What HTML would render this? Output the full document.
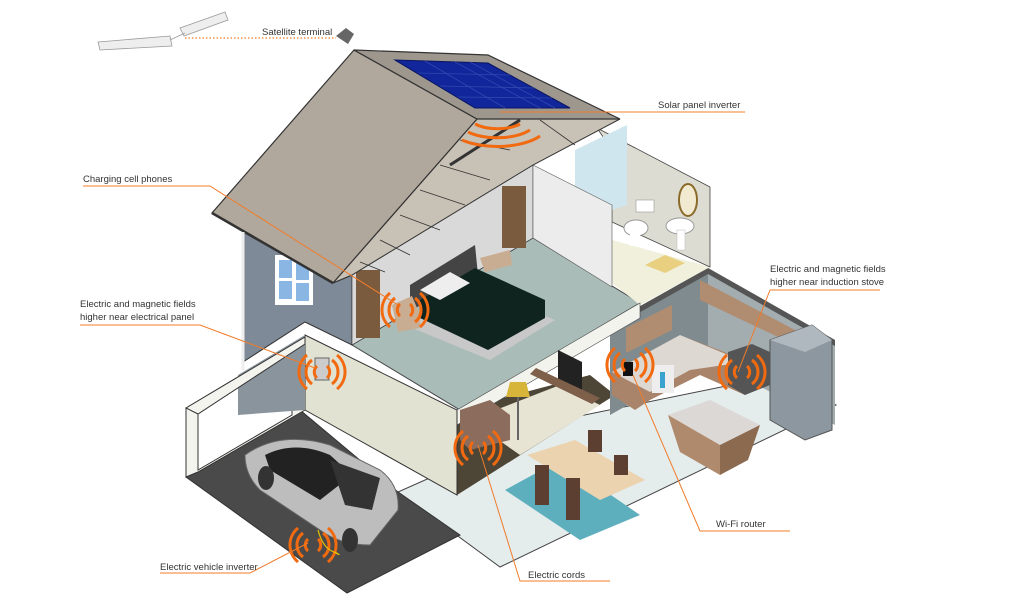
<!DOCTYPE html>
<html><head><meta charset="utf-8"><style>
html,body{margin:0;padding:0;background:#fff;}
svg{display:block}
text{font-family:"Liberation Sans",sans-serif;font-size:9.5px;fill:#333}
</style></head><body>
<svg width="1024" height="608" viewBox="0 0 1024 608" xmlns="http://www.w3.org/2000/svg">
<defs>
<g id="w"><path d="M-5,-6 A8,8 0 0 0 -5,6 M5,-6 A8,8 0 0 1 5,6 M-10,-12 A15,15 0 0 0 -10,12 M10,-12 A15,15 0 0 1 10,12 M-15,-17 A22,22 0 0 0 -15,17 M15,-17 A22,22 0 0 1 15,17" fill="none" stroke="#f26a10" stroke-width="3"/></g>
</defs>
<!-- satellite -->
<g stroke="#999" stroke-width="0.8" fill="#eee">
<polygon points="98,42 170,36 172,46 100,50"/>
<polygon points="180,28 225,12 228,20 184,36"/>
<line x1="170" y1="40" x2="185" y2="33"/>
</g>
<line x1="185" y1="38" x2="336" y2="38" stroke="#f07c2a" stroke-dasharray="1.5,2" stroke-width="1.2"/>
<text x="262" y="35">Satellite terminal</text>
<polygon points="336,36 346,28 354,34 348,44" fill="#666"/>
<!-- ground floor slab living -->
<polygon points="398,492 500,567 836,405 780,375 560,420" fill="#e5ecec" stroke="#444" stroke-width="1"/>
<!-- garage floor -->
<polygon points="186,477 300,410 398,492 460,535 347,593" fill="#4a4a4a" stroke="#333"/>
<!-- living dark area -->
<polygon points="457,410 457,495 560,430 615,395 590,375" fill="#4d4536"/>
<polygon points="470,420 520,455 600,405 560,385" fill="#e8e4d4"/>
<!-- kitchen back walls -->
<polygon points="610,323 708,268 708,360 610,415" fill="#7f8b8f"/>
<polygon points="708,268 835,340 835,425 708,360" fill="#a3adb0"/>
<polygon points="610,323 708,268 835,340 835,346 708,274 610,329" fill="#555"/>
<!-- cabinets -->
<polygon points="626,328 672,305 672,330 626,353" fill="#b08c70"/>
<polygon points="700,280 795,330 795,345 700,300" fill="#b08c70"/>
<polygon points="612,372 680,335 745,360 745,395 700,375 650,400 635,410 612,395" fill="#a9846a"/>
<polygon points="612,372 680,335 745,362 690,370 650,392" fill="#ddd8d2"/>
<rect x="652" y="365" width="22" height="28" fill="#eee"/>
<rect x="660" y="372" width="5" height="16" fill="#3ba3d0"/>
<!-- fridge -->
<polygon points="770,340 812,325 832,340 832,430 805,440 770,420" fill="#8c979f" stroke="#555"/>
<polygon points="770,340 812,325 832,340 805,352" fill="#b0b8bf"/>
<!-- island -->
<polygon points="668,415 710,400 760,425 720,445" fill="#dcd8d6"/>
<polygon points="668,415 720,445 720,475 680,452" fill="#b08a6c"/>
<polygon points="720,445 760,425 748,460 720,475" fill="#8c6a50"/>
<!-- rug & table -->
<polygon points="505,490 560,460 640,515 580,540" fill="#5eafbd"/>
<polygon points="527,455 575,440 645,480 600,500" fill="#ecd3b0"/>
<g fill="#5c3f30"><rect x="588" y="430" width="14" height="22"/><rect x="614" y="455" width="14" height="20"/><rect x="535" y="465" width="14" height="40"/><rect x="566" y="478" width="14" height="42"/></g>
<!-- upper floor slab -->
<polygon points="352,345 533,238 640,303 460,410" fill="#a9bcb8" stroke="#444"/>
<!-- bathroom floor -->
<polygon points="580,258 612,240 710,267 640,305" fill="#f0f0dc"/>
<polygon points="645,265 665,255 685,263 665,273" fill="#e8d080"/>
<polygon points="457,410 640,303 640,318 457,425" fill="#f3f3ee" stroke="#444" stroke-width=".6"/>
<!-- sofa, lamp, tv -->
<polygon points="460,410 490,400 510,415 510,440 470,450 460,440" fill="#8b6c5d"/>
<line x1="518" y1="392" x2="518" y2="440" stroke="#666" stroke-width="2"/>
<polygon points="510,382 526,382 530,397 506,397" fill="#d6b53a"/>
<polygon points="558,350 582,362 582,398 558,385" fill="#222"/>
<polygon points="536,368 600,398 592,404 530,374" fill="#7d5f4a"/>
<!-- garage walls -->
<polygon points="305,335 457,410 457,495 305,410" fill="#e2e2d2" stroke="#333"/>
<polygon points="186,408 305,337 305,410 198,472 186,477" fill="#f4f4ee" stroke="#333"/>
<polygon points="198,408 292,356 292,415 198,470" fill="#fff" stroke="#333"/>
<polygon points="238,375 305,335 305,410 238,415" fill="#8a949c"/>
<polygon points="186,408 305,337 305,344 198,414" fill="#f4f4ee" stroke="#333"/>
<!-- upper left blue wall -->
<polygon points="243,232 333,283 352,275 352,345 305,322 243,362" fill="#7e8a97" stroke="#333"/>
<rect x="275" y="255" width="38" height="50" fill="#fff"/>
<rect x="279" y="260" width="13" height="18" fill="#8ab6e3"/><rect x="296" y="262" width="13" height="18" fill="#8ab6e3"/>
<rect x="279" y="281" width="13" height="18" fill="#8ab6e3"/><rect x="296" y="283" width="13" height="18" fill="#8ab6e3"/>
<!-- bathroom walls -->
<polygon points="597,128 710,187 710,267 612,222 612,150" fill="#dcdcd2" stroke="#444" stroke-width=".8"/>
<polygon points="575,150 627,125 627,205 575,222" fill="#cfe6ee"/>
<!-- bedroom back wall -->
<polygon points="352,275 533,165 533,238 352,345" fill="#d9d9d9" stroke="#333" stroke-width=".6"/>
<polygon points="533,165 612,205 612,287 533,238" fill="#ececec" stroke="#555" stroke-width=".6"/>
<rect x="356" y="270" width="24" height="68" fill="#7a5b3e"/>
<rect x="502" y="186" width="24" height="62" fill="#7a5b3e"/>
<polygon points="410,285 475,245 478,275 410,310" fill="#444"/>
<!-- bath fixtures -->
<ellipse cx="688" cy="200" rx="9" ry="16" fill="#f2ead0" stroke="#8a6a2a" stroke-width="2"/>
<rect x="636" y="200" width="18" height="12" fill="#fff" stroke="#999" stroke-width=".6"/>
<ellipse cx="636" cy="228" rx="12" ry="8" fill="#fff" stroke="#999"/>
<rect x="630" y="228" width="10" height="18" fill="#fff"/>
<ellipse cx="680" cy="226" rx="14" ry="8" fill="#fff" stroke="#999"/>
<rect x="677" y="230" width="8" height="20" fill="#fff" stroke="#bbb" stroke-width=".5"/>
<!-- bed -->
<polygon points="405,325 470,285 555,320 490,360" fill="#c8c8c8"/>
<polygon points="420,300 475,268 545,300 545,318 488,350 420,318" fill="#0f231f"/>
<polygon points="420,290 450,272 470,283 440,300" fill="#eee"/>
<polygon points="480,258 510,250 512,265 485,272" fill="#c9ad92"/>
<polygon points="392,305 412,296 420,315 420,328 398,332" fill="#c9ad92"/>
<!-- roof underside -->
<polygon points="477,119 620,119 533,165 352,275 333,283" fill="#c8c1b5" stroke="#333"/>
<g stroke="#333" stroke-width=".8"><line x1="460" y1="140" x2="510" y2="150"/><line x1="440" y1="165" x2="490" y2="180"/><line x1="420" y1="190" x2="465" y2="205"/><line x1="400" y1="215" x2="440" y2="230"/><line x1="380" y1="240" x2="410" y2="255"/><line x1="360" y1="262" x2="385" y2="272"/><line x1="540" y1="120" x2="575" y2="145"/></g>
<line x1="450" y1="165" x2="520" y2="120" stroke="#333" stroke-width="3"/>
<!-- roof slab -->
<polygon points="354,50 212,213 333,283 477,119" fill="#b0a89c" stroke="#333" stroke-width="1.2"/>
<polygon points="354,50 488,55 620,119 477,119" fill="#9d978e" stroke="#333" stroke-width="1.2"/>
<polygon points="395,60 488,63 570,108 475,108" fill="#10269a" stroke="#0a1560"/>
<g stroke="#3048b0" stroke-width=".8"><line x1="418" y1="73" x2="510" y2="75"/><line x1="440" y1="86" x2="535" y2="88"/><line x1="458" y1="97" x2="552" y2="98"/><line x1="425" y1="61" x2="505" y2="108"/><line x1="455" y1="62" x2="540" y2="108"/><line x1="470" y1="62" x2="555" y2="108"/></g>
<line x1="212" y1="213" x2="333" y2="283" stroke="#333" stroke-width="2.5"/>
<line x1="243" y1="232" x2="243" y2="370" stroke="#eee" stroke-width="3"/>
<!-- electrical panel -->
<rect x="315" y="358" width="14" height="22" fill="#ccc" stroke="#666"/>
<!-- car -->
<g>
<path d="M245,455 Q280,430 330,445 L380,470 Q400,485 398,510 L370,545 Q340,545 320,530 L260,490 Q245,475 245,455 Z" fill="#bdbdbd" stroke="#666"/>
<path d="M265,455 Q295,440 330,455 L352,475 L320,500 L270,470 Z" fill="#222"/>
<path d="M330,460 L380,478 L372,510 L345,505 Z" fill="#333"/>
<ellipse cx="266" cy="478" rx="8" ry="12" fill="#333"/><ellipse cx="350" cy="540" rx="8" ry="12" fill="#333"/>
</g>
<!-- kitchen devices -->
<rect x="623" y="362" width="10" height="14" fill="#111"/>
<polygon points="728,352 752,344 770,352 770,385 745,395 728,385" fill="#555"/>
<!-- waves -->
<path d="M475,124 A30,14 0 0 0 520,124 M468,132 A40,18 0 0 0 530,130 M462,140 A50,22 0 0 0 540,136" fill="none" stroke="#f26a10" stroke-width="3"/>
<use href="#w" x="405" y="310"/>
<use href="#w" x="322" y="372"/>
<use href="#w" x="630" y="365"/>
<use href="#w" x="742" y="372"/>
<use href="#w" x="478" y="448"/>
<use href="#w" x="313" y="545"/>
<path d="M318,530 Q322,545 330,550 Q345,558 335,552" fill="none" stroke="#e6c200" stroke-width="1.2"/>
<!-- callouts -->
<g fill="none" stroke="#f07c2a" stroke-width="1">
<polyline points="500,112 745,112"/>
<polyline points="83,186 210,186 398,305"/>
<polyline points="80,325 200,325 315,368"/>
<polyline points="770,290 880,290"/><polyline points="770,290 738,372"/>
<polyline points="790,531 700,531 633,375"/>
<polyline points="610,581 520,581 478,445"/>
<polyline points="160,573 250,573 308,543"/>
</g>
<text x="658" y="108">Solar panel inverter</text>
<text x="83" y="182">Charging cell phones</text>
<text x="80" y="307">Electric and magnetic fields</text>
<text x="80" y="320">higher near electrical panel</text>
<text x="770" y="272">Electric and magnetic fields</text>
<text x="770" y="285">higher near induction stove</text>
<text x="716" y="527">Wi-Fi router</text>
<text x="528" y="578">Electric cords</text>
<text x="160" y="570">Electric vehicle inverter</text>
</svg>
</body></html>
